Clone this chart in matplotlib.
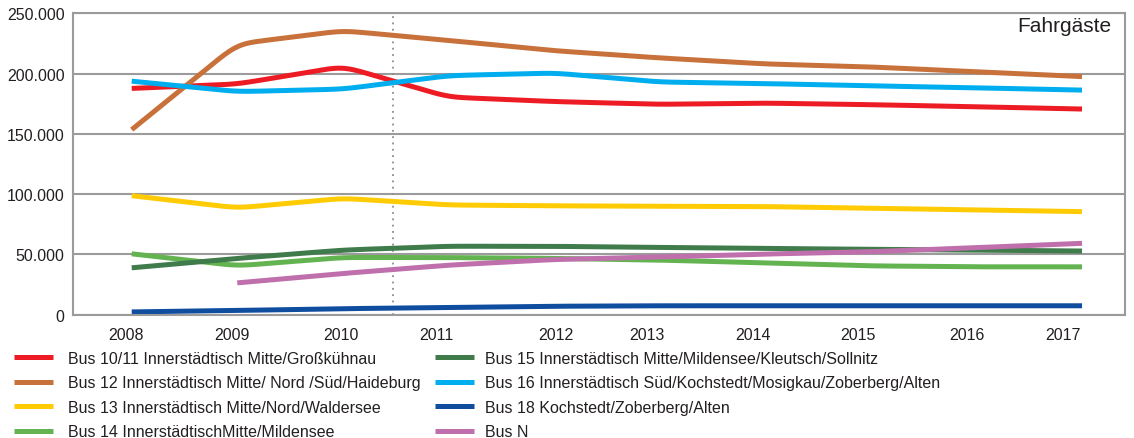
#!/usr/bin/env python

import numpy as np
import matplotlib
matplotlib.use('Agg')
import matplotlib.pyplot as plt
from matplotlib.ticker import FuncFormatter

plt.rcParams['font.family'] = ['Liberation Sans', 'DejaVu Sans']

years = [2008, 2009, 2010, 2011, 2012, 2013, 2014, 2015, 2016, 2017]

# passengers per year and line
bus_10_11 = [187700, 191300, 206000, 180500, 176800, 174500, 175500, 174200, 172500, 170600]
bus_12 = [153500, 224600, 235600, 227500, 219000, 213000, 208000, 205500, 201500, 197500]
bus_13 = [98700, 88500, 96600, 91000, 90300, 90000, 89700, 88300, 87000, 85500]
bus_14 = [50500, 40500, 47500, 47400, 46700, 45300, 43000, 40500, 39700, 39700]
bus_15 = [38900, 46700, 53600, 56800, 56700, 55800, 55000, 54200, 53600, 52800]
bus_16 = [193700, 185000, 187100, 198300, 200500, 193000, 191700, 189800, 188200, 186300]
bus_18 = [2300, 3500, 5000, 6000, 7000, 7400, 7400, 7400, 7400, 7400]
bus_n = [None, 26400, 34200, 41100, 45800, 47800, 50300, 52200, 55600, 59200]

series = [bus_10_11, bus_12, bus_13, bus_14, bus_15, bus_16, bus_18, bus_n]
labels = ['Bus 10/11 Innerstädtisch Mitte/Großkühnau',
          'Bus 12 Innerstädtisch Mitte/ Nord /Süd/Haideburg',
          'Bus 13 Innerstädtisch Mitte/Nord/Waldersee',
          'Bus 14 InnerstädtischMitte/Mildensee',
          'Bus 15 Innerstädtisch Mitte/Mildensee/Kleutsch/Sollnitz',
          'Bus 16 Innerstädtisch Süd/Kochstedt/Mosigkau/Zoberberg/Alten',
          'Bus 18 Kochstedt/Zoberberg/Alten',
          'Bus N']
colors = ['#ed1c24', '#c8713a', '#ffcb05', '#63b450',
          '#3f7b4b', '#00aeef', '#0f4d9f', '#bf6fab']

# year labels are set a little off the data columns
year_label_pos = [2007.95, 2008.95, 2009.98, 2010.89, 2012.02,
                  2012.88, 2013.88, 2014.88, 2015.91, 2016.82]
year_labels = [str(y) for y in years]

# dotted marker between 2010 and 2011
marker_year = 2010.47


def rounded(x, y, step=0.01, sigma=0.1):
    '''Polyline through the points with its corners softened.'''
    x = np.asarray(x, float)
    y = np.asarray(y, float)
    xs = np.arange(x[0], x[-1] + step/2, step)
    ys = np.interp(xs, x, y)
    k = int(3*sigma/step)
    kern = np.exp(-0.5*(np.arange(-k, k + 1)*step/sigma)**2)
    kern /= kern.sum()
    # point-reflect the ends so the first and last segments stay straight
    pad_l = 2*ys[0] - ys[1:k + 1][::-1]
    pad_r = 2*ys[-1] - ys[-k - 1:-1][::-1]
    ys = np.convolve(np.concatenate([pad_l, ys, pad_r]), kern, mode='valid')
    return xs, ys


W, H = 1134, 439
fig = plt.figure(figsize=(W/100, H/100), dpi=100)
ax = fig.add_axes([73/W, 1 - 315.7/H, (1125 - 73)/W, (315.7 - 14.3)/H])

grey = '#9b9b9b'
text_col = '#231f20'

handles = []
for vals, lab, col in zip(series, labels, colors):
    pts = [(yr, v) for yr, v in zip(years, vals) if v is not None]
    xs, ys = rounded([p[0] for p in pts], [p[1] for p in pts])
    h, = ax.plot(xs, ys, color=col, lw=3.6, solid_capstyle='butt', label=lab)
    handles.append(h)

ax.axvline(marker_year, color='#8c8c8c', lw=1.3, ls=(0, (1, 2.5)), zorder=1)

ax.set_xlim(2007.444, 2017.407)
ax.set_ylim(0, 250000)
ax.set_yticks(range(0, 250001, 50000))
ax.yaxis.set_major_formatter(FuncFormatter(lambda v, p: f'{int(v):,}'.replace(',', '.')))
ax.set_xticks(year_label_pos)
ax.set_xticklabels(year_labels)
ax.grid(axis='y', color=grey, lw=1.5)
ax.set_axisbelow(True)
for sp in ax.spines.values():
    sp.set_color(grey)
    sp.set_linewidth(1.5)
ax.tick_params(length=0, labelsize=11.5, colors=text_col)
ax.tick_params(axis='y', pad=6)
ax.tick_params(axis='x', pad=9)

ax.text(0.9874, 0.99, 'Fahrgäste', transform=ax.transAxes, ha='right', va='top',
        fontsize=15, color=text_col)

leg_kw = dict(loc='upper left', frameon=False, borderpad=0, borderaxespad=0,
              handlelength=2.44, handletextpad=0.94, labelspacing=0.59,
              fontsize=11.5, labelcolor=text_col)
fig.legend(handles[:4], labels[:4], bbox_to_anchor=(14/W, 1 - 352/H), **leg_kw)
leg_kw['handletextpad'] = 0.7
fig.legend(handles[4:], labels[4:], bbox_to_anchor=(435/W, 1 - 352/H), **leg_kw)

fig.savefig('out.png', dpi=100)
